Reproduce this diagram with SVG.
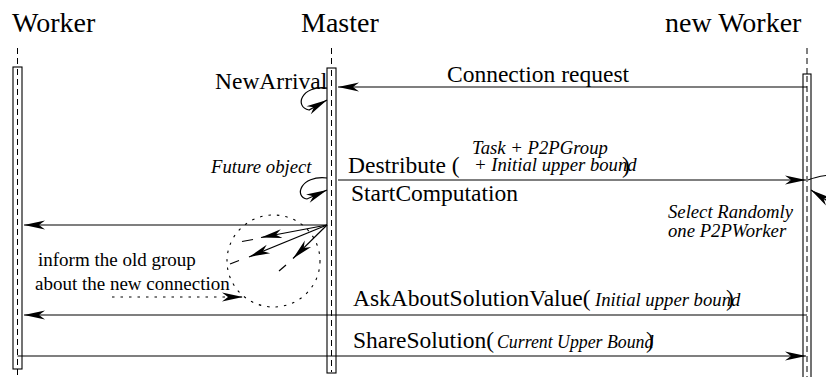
<svg xmlns="http://www.w3.org/2000/svg" width="826" height="377" viewBox="0 0 826 377" font-family="'Liberation Serif', 'Times New Roman', 'DejaVu Serif', serif">
  <defs>
    <marker id="head" viewBox="-22 -5 23 10" refX="0" refY="0" markerWidth="23" markerHeight="10" markerUnits="userSpaceOnUse" orient="auto">
      <path d="M0,0 L-21,-4.5 L-15,0 L-21,4.5 Z" fill="#000"/>
    </marker>
    <style>
      text { fill: #000; }
      .title { font-size: 28px; }
      .msg { font-size: 23.5px; }
      .note { font-size: 18.7px; font-style: italic; }
      .plain { font-size: 19px; }
      .box { fill: #fff; stroke: #000; stroke-width: 1.1; }
      .life { stroke: #000; stroke-width: 1; stroke-dasharray: 6 4; fill: none; }
      .msgline { stroke: #000; stroke-width: 1.2; fill: none; }
      .arrow { marker-end: url(#head); }
      .dots { stroke: #000; stroke-width: 1.1; stroke-dasharray: 2.5 6; fill: none; }
    </style>
  </defs>

  <!-- lifelines -->
  <g id="worker">
    <text class="title" x="12" y="32">Worker</text>
    <line class="life" x1="17.5" y1="48" x2="17.5" y2="67"/>
    <rect class="box" x="13" y="67" width="9" height="302"/>
    <line class="life" x1="17.5" y1="69" x2="17.5" y2="377"/>
  </g>
  <g id="master">
    <text class="title" x="301" y="32">Master</text>
    <line class="life" x1="331.5" y1="48" x2="331.5" y2="68"/>
    <rect class="box" x="327" y="68" width="9" height="305"/>
    <line class="life" x1="331.5" y1="70" x2="331.5" y2="372"/>
  </g>
  <g id="new-worker">
    <text class="title" x="665" y="32">new Worker</text>
    <line class="life" x1="807" y1="48" x2="807" y2="74"/>
    <rect class="box" x="803" y="74" width="8" height="310"/>
    <line class="life" x1="807" y1="76" x2="807" y2="377"/>
  </g>

  <!-- connectors -->
  <g id="connectors">
    <!-- connection request -->
    <line class="msgline arrow" x1="807" y1="87" x2="338" y2="87"/>
    <!-- NewArrival self call -->
    <path class="msgline arrow" d="M327,88 C301,85 294,107 309,110 L327,100"/>
    <!-- Future object self call -->
    <path class="msgline arrow" d="M327,178 C300,175 294,197 307,199 L327,190"/>
    <!-- Destribute -->
    <line class="msgline arrow" x1="338" y1="180" x2="806" y2="180"/>
    <!-- Select randomly self call on new worker -->
    <path class="msgline" d="M808,180 C815,177 821,176 830,175"/>
    <line class="msgline arrow" x1="832" y1="204" x2="811" y2="190"/>
    <!-- inform old group -->
    <line class="msgline arrow" x1="327" y1="225" x2="24" y2="225"/>
    <line class="msgline arrow" x1="327" y1="225" x2="261" y2="237.5"/>
    <line class="msgline arrow" x1="327" y1="225" x2="249" y2="257"/>
    <line class="msgline arrow" x1="327" y1="225" x2="293" y2="258.5"/>
    <line class="msgline" x1="253" y1="239.5" x2="242" y2="241.5"/>
    <line class="msgline" x1="239" y1="260.5" x2="230" y2="264"/>
    <line class="msgline" x1="286" y1="265" x2="279" y2="271"/>
    <ellipse class="dots" cx="273.5" cy="261" rx="46.5" ry="46"/>
    <line class="dots arrow" x1="112" y1="297" x2="243" y2="297"/>
    <!-- ask about solution value -->
    <line class="msgline arrow" x1="807" y1="315" x2="24" y2="315"/>
    <!-- share solution -->
    <line class="msgline arrow" x1="17.5" y1="356" x2="806" y2="356"/>
  </g>

  <!-- message labels -->
  <g id="labels">
    <text class="msg" x="215" y="89">NewArrival</text>
    <text class="msg" x="447" y="82">Connection request</text>
    <text class="note" x="211" y="173">Future object</text>
    <text class="msg" x="348" y="173">Destribute (</text>
    <text class="note" x="472" y="154">Task + P2PGroup</text>
    <text class="note" x="474" y="171">+ Initial upper bound</text>
    <text class="msg" x="622" y="173">)</text>
    <text class="msg" x="351" y="201">StartComputation</text>
    <text class="note" x="668" y="218">Select Randomly</text>
    <text class="note" x="668" y="237">one P2PWorker</text>
    <text class="plain" x="38" y="266">inform the old group</text>
    <text class="plain" x="35" y="290">about the new connection</text>
    <text class="msg" x="353" y="306">AskAboutSolutionValue(</text>
    <text class="note" x="595" y="306">Initial upper bound</text>
    <text class="msg" x="726" y="306">)</text>
    <text class="msg" x="353" y="348">ShareSolution(</text>
    <text class="note" x="497" y="348" style="font-size:17.8px">Current Upper Bound</text>
    <text class="msg" x="646" y="348">)</text>
  </g>
</svg>
